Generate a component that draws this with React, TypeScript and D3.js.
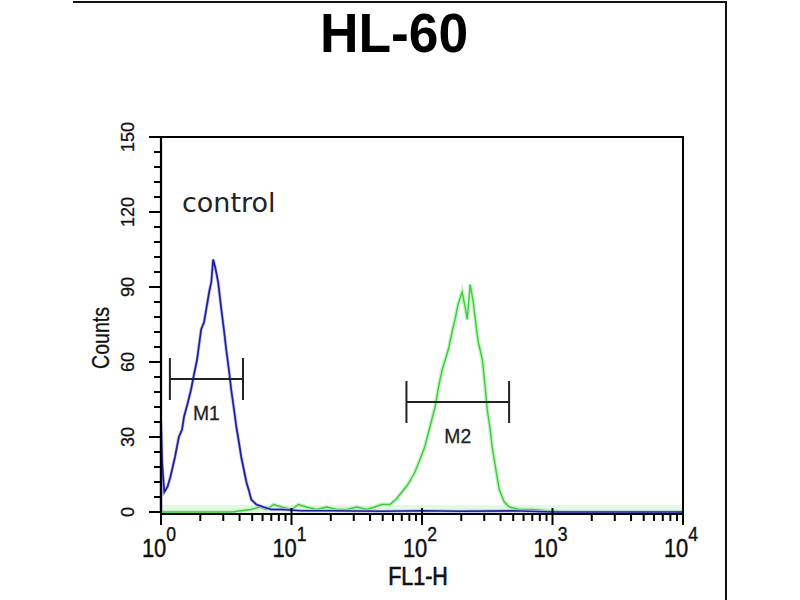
import React from "react";
import * as d3 from "d3";

const title = "HL-60";
const sampleLabel = "control";
const xAxisLabel = "FL1-H";
const yAxisLabel = "Counts";

const yTicks = [0, 30, 60, 90, 120, 150];
const yMinorStep = 6;
const xDecades = [0, 1, 2, 3, 4];

const blueFL1 = [1.0, 1.0, 1.02, 1.06, 1.12, 1.18, 1.28, 1.37, 1.45, 1.5, 1.61, 1.7, 1.79, 1.89, 2.03, 2.14, 2.22, 2.34, 2.43, 2.51, 2.6, 2.74, 2.9, 3.05, 3.16, 3.33, 3.45, 3.65, 3.78, 3.98, 4.12, 4.35, 4.51, 4.75, 4.92, 5.38, 6.1, 7.01, 8.38, 11.9, 20, 50, 100, 200, 500, 1000, 10000];
const blueCounts = [0, 36, 20, 8, 10, 14, 22, 30, 33, 38, 44, 49, 55, 61, 73, 76, 81, 88, 92, 101, 98, 92, 81, 72, 65, 56, 49, 40, 34, 27, 22, 16, 12, 8, 5, 3, 2, 1, 1, 0.5, 0.5, 0.3, 0.5, 0.3, 0.5, 0, 0];

const greenFL1 = [1, 3.5, 4.1, 4.9, 5.7, 6.4, 7.3, 8.4, 10, 11.3, 13, 15.6, 18.6, 22.2, 26.5, 31.6, 37.8, 43.5, 49.2, 56.7, 63.1, 70.2, 78, 88.3, 96.5, 105, 115, 126, 135, 143, 153, 161, 170, 179, 189, 203, 214, 222, 234, 247, 256, 270, 290, 305, 316, 333, 345, 371, 391, 427, 467, 557, 702, 912, 1200, 10000];
const greenCounts = [0, 0, 0.5, 1, 2, 1, 3, 2, 1, 3, 2, 1, 2, 1, 1, 2, 1, 2, 3, 3, 5, 8, 11, 16, 21, 26, 34, 42, 51, 57, 62, 66, 72, 77, 83, 88, 82, 77, 91, 84, 77, 68, 61, 50, 41, 33, 26, 16, 9, 4, 2, 1, 1, 0.5, 0, 0];

const markerNames = ["M1", "M2"];
const markerLo = [1.17, 76];
const markerHi = [4.25, 465];
const markerCount = [53.2, 44];

const FONT = "'Liberation Sans', Arial, sans-serif";

export default function App() {
  const left = 161, right = 683, top = 137, bottom = 512;
  const x = d3.scaleLog().domain([1, 10000]).range([left, right]);
  const y = d3.scaleLinear().domain([0, 150]).range([bottom, top]);
  const line = d3
    .line<[number, number]>()
    .x((d) => x(d[0]))
    .y((d) => y(d[1]));

  const blue = blueFL1.map((v, i) => [v, blueCounts[i]] as [number, number]);
  const green = greenFL1.map((v, i) => [v, greenCounts[i]] as [number, number]);

  const minorY = d3.range(0, 150 + 0.001, yMinorStep).filter((v) => !yTicks.includes(v));
  const minorX: number[] = [];
  xDecades.slice(0, -1).forEach((d) => {
    for (let k = 2; k <= 9; k++) minorX.push(k * Math.pow(10, d));
  });
  const axisY = bottom + 2;

  return (
    <svg
      width={800}
      height={600}
      style={{ position: "absolute", left: 0, top: 0, background: "#fff" }}
      fontFamily={FONT}
    >
      <rect x={0} y={0} width={800} height={600} fill="#fff" />
      {/* outer frame */}
      <line x1={73} x2={727} y1={2} y2={2} stroke="#111" strokeWidth={2} />
      <line x1={726} x2={726} y1={1} y2={600} stroke="#111" strokeWidth={2} />

      <text
        transform="translate(394,52) scale(0.97,1)"
        textAnchor="middle"
        fontSize={55}
        fontWeight="bold"
        fill="#000"
      >
        {title}
      </text>

      {/* baseline glow */}
      <rect x={left} y={bottom - 7} width={right - left} height={9} fill="#e4f9e4" />

      {/* green histogram */}
      <path d={line(green) || ""} fill="none" stroke="#c6f2c6" strokeWidth={4} />
      <path d={line(green) || ""} fill="none" stroke="#3ccc3c" strokeWidth={1.4} />
      {/* blue histogram */}
      <path d={line(blue) || ""} fill="none" stroke="#bcbcf0" strokeWidth={3.2} />
      <path d={line(blue) || ""} fill="none" stroke="#1f1f96" strokeWidth={1.7} />

      {/* plot frame */}
      <line x1={left} x2={right} y1={top} y2={top} stroke="#000" strokeWidth={2} />
      <line x1={right} x2={right} y1={top - 1} y2={axisY} stroke="#000" strokeWidth={2} />
      <line x1={left} x2={left} y1={top - 1} y2={axisY + 1} stroke="#000" strokeWidth={2.2} />
      <line x1={left} x2={right + 1} y1={axisY} y2={axisY} stroke="#000" strokeWidth={2.2} />

      {/* y ticks */}
      {yTicks.map((t) => (
        <g key={"yt" + t}>
          <line x1={left - 12} x2={left} y1={y(t)} y2={y(t)} stroke="#000" strokeWidth={2} />
          <text
            transform={`translate(${134},${y(t)}) rotate(-90)`}
            textAnchor="middle"
            fontSize={18}
            fill="#111"
            stroke="#111"
            strokeWidth={0.3}
          >
            {t}
          </text>
        </g>
      ))}
      {minorY.map((t) => (
        <line key={"ym" + t} x1={left - 7} x2={left} y1={y(t)} y2={y(t)} stroke="#000" strokeWidth={2} />
      ))}
      <text
        transform={`translate(${109},${338}) rotate(-90) scale(0.85,1)`}
        textAnchor="middle"
        fontSize={23}
        fill="#111"
        stroke="#111"
        strokeWidth={0.3}
      >
        {yAxisLabel}
      </text>

      {/* x ticks */}
      {xDecades.map((d) => {
        const v = Math.pow(10, d);
        return (
          <g key={"xt" + d}>
            <line x1={x(v)} x2={x(v)} y1={axisY - 6} y2={axisY + 11} stroke="#000" strokeWidth={2} />
            <text
              transform={`translate(${x(v) - 2},${557}) scale(0.88,1)`}
              textAnchor="middle"
              fontSize={25}
              fill="#111"
              stroke="#111"
              strokeWidth={0.4}
            >
              10
              <tspan fontSize={20} dy={-16}>
                {d}
              </tspan>
            </text>
          </g>
        );
      })}
      {minorX.map((v, i) => (
        <line key={"xm" + i} x1={x(v)} x2={x(v)} y1={axisY} y2={axisY + 7} stroke="#000" strokeWidth={2} />
      ))}
      <text
        transform={`translate(${418},${585}) scale(0.86,1)`}
        textAnchor="middle"
        fontSize={25}
        fill="#111"
        stroke="#111"
        strokeWidth={0.7}
      >
        {xAxisLabel}
      </text>

      <text x={182} y={212} fontFamily="'DejaVu Sans', Verdana, sans-serif" fontSize={27} fill="#222">
        {sampleLabel}
      </text>

      {/* markers */}
      {markerNames.map((m, i) => {
        const x1 = x(markerLo[i]);
        const x2 = x(markerHi[i]);
        const yy = y(markerCount[i]);
        const mid = Math.sqrt(markerLo[i] * markerHi[i]);
        return (
          <g key={m}>
            <line x1={x1} x2={x2} y1={yy} y2={yy} stroke="#222" strokeWidth={2} />
            <line x1={x1} x2={x1} y1={yy - 21} y2={yy + 21} stroke="#222" strokeWidth={2} />
            <line x1={x2} x2={x2} y1={yy - 21} y2={yy + 21} stroke="#222" strokeWidth={2} />
            <text
              transform={`translate(${x(mid)},${yy + 41}) scale(0.92,1)`}
              textAnchor="middle"
              fontSize={21}
              fill="#222"
              stroke="#222"
              strokeWidth={0.3}
            >
              {m}
            </text>
          </g>
        );
      })}
    </svg>
  );
}
